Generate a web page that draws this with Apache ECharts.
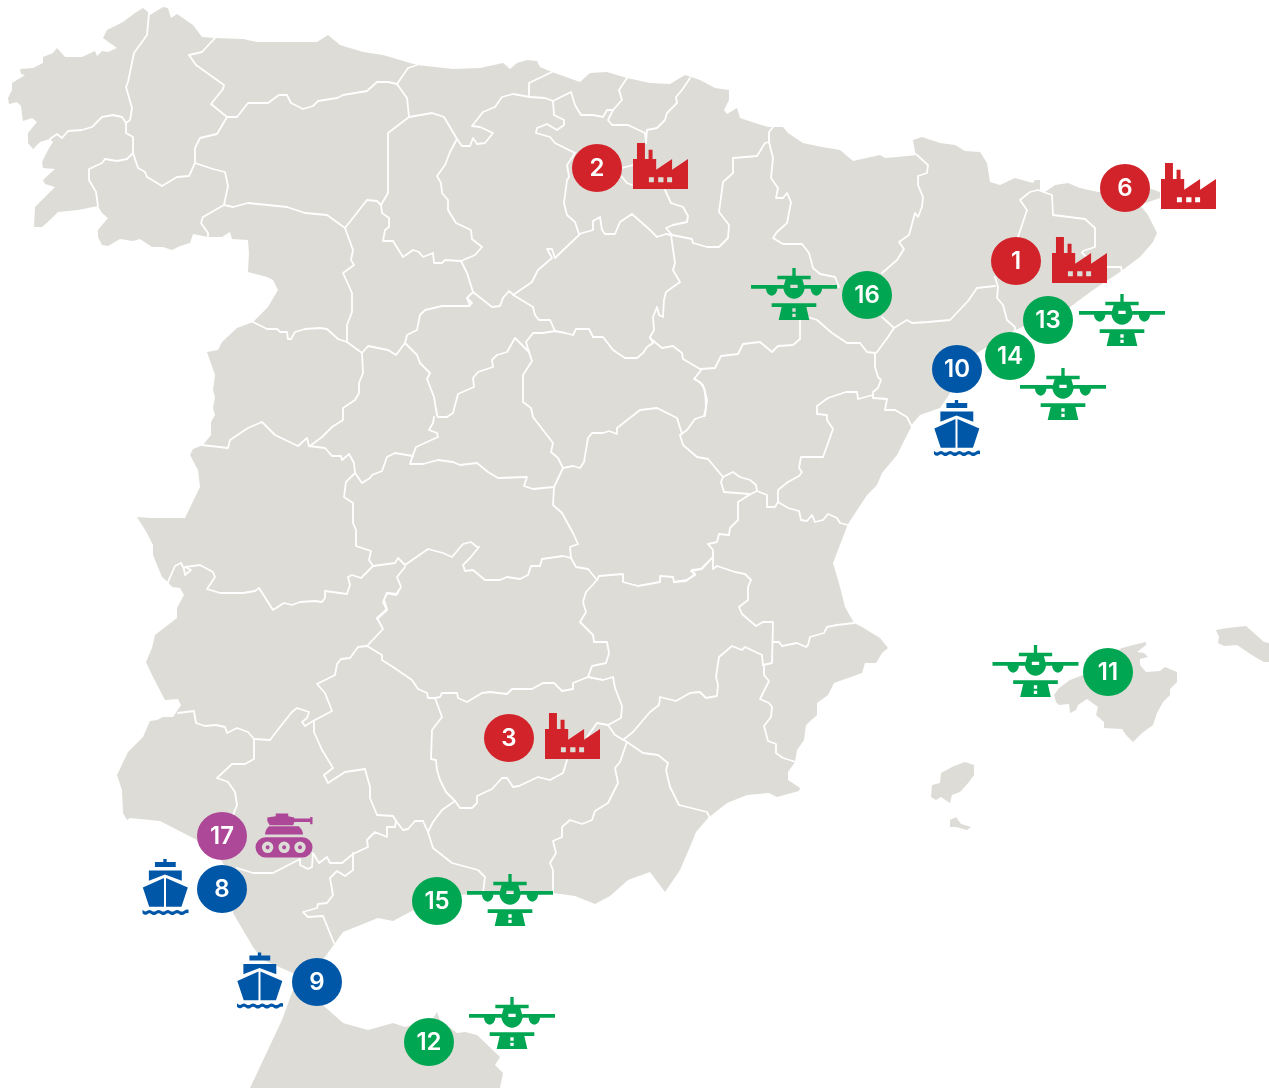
<!DOCTYPE html>
<html>
<head>
<meta charset="utf-8">
<title>Mapa</title>
<script src="https://cdn.jsdelivr.net/npm/echarts@6/dist/echarts.min.js"></script>
<style>
    html, body { margin: 0; padding: 0; background: #fff; }
    #chart-box { width: 1269px; height: 1088px; }
</style>
</head>
<body>
<div id="chart-box"></div>
<script>
// land outlines (x right, y down)
var peninsula = [[148,12],[143,8],[135,13],[123,22],[107,30],[103,38],[110,43],[117,48],[108,52],[102,51],[97,56],[95,51],[82,57],[65,57],[57,48],[53,53],[43,57],[43,63],[33,68],[20,69],[21,74],[25,75],[12,83],[12,90],[8,98],[9,104],[17,102],[21,106],[22,115],[23,121],[32,118],[37,122],[28,133],[28,143],[33,149],[40,142],[50,139],[53,142],[48,150],[42,162],[43,168],[55,169],[43,180],[45,184],[55,187],[35,207],[34,227],[42,227],[50,220],[58,212],[78,210],[98,206],[102,213],[108,218],[98,230],[98,237],[102,245],[108,246],[120,239],[133,241],[140,239],[152,247],[163,247],[172,250],[180,246],[190,243],[193,234],[208,237],[222,237],[230,232],[232,239],[248,240],[249,253],[248,272],[267,277],[273,280],[278,290],[268,307],[253,322],[237,328],[222,342],[218,350],[207,352],[215,375],[213,390],[215,397],[213,408],[215,415],[211,422],[211,435],[203,445],[193,449],[190,455],[198,470],[200,487],[185,518],[168,518],[150,518],[137,517],[147,533],[153,545],[153,555],[162,577],[168,582],[172,587],[180,588],[184,595],[177,608],[177,618],[155,635],[152,648],[146,662],[152,675],[165,700],[178,699],[181,705],[173,717],[163,717],[157,720],[150,721],[143,737],[128,752],[117,775],[122,790],[123,813],[127,820],[130,818],[160,821],[197,840],[220,858],[235,885],[233,913],[253,947],[263,960],[293,973],[310,975],[325,957],[343,932],[378,918],[393,921],[410,912],[430,900],[460,895],[483,893],[520,893],[553,893],[575,896],[595,904],[610,896],[628,880],[650,872],[665,892],[680,870],[692,842],[696,832],[708,818],[727,803],[747,795],[769,793],[777,797],[799,791],[800,788],[788,780],[788,772],[795,762],[797,750],[804,740],[806,725],[817,715],[817,703],[828,695],[834,683],[862,673],[865,663],[876,663],[882,653],[888,648],[880,638],[862,627],[854,623],[845,607],[840,587],[833,563],[843,537],[848,524],[867,495],[877,485],[882,473],[897,455],[913,423],[920,415],[940,408],[977,353],[1015,330],[1070,307],[1093,290],[1120,272],[1140,257],[1153,242],[1157,233],[1148,215],[1140,205],[1160,198],[1160,192],[1140,185],[1098,192],[1080,188],[1068,183],[1055,185],[1045,192],[1040,190],[1040,180],[1035,180],[1033,183],[1015,178],[1000,185],[990,182],[987,163],[980,152],[965,151],[955,145],[940,143],[922,137],[913,140],[915,152],[917,155],[897,157],[885,158],[880,155],[853,161],[840,150],[822,147],[803,143],[788,133],[783,127],[772,127],[768,127],[755,123],[740,118],[737,108],[727,114],[724,110],[729,100],[729,90],[715,88],[700,80],[685,75],[670,84],[650,83],[627,78],[607,72],[590,73],[580,82],[552,72],[540,67],[537,61],[527,60],[517,63],[510,69],[503,63],[480,68],[453,69],[417,65],[383,55],[363,52],[340,45],[328,35],[317,42],[293,42],[257,42],[243,39],[215,38],[202,37],[193,25],[177,14],[171,18],[168,8],[163,7],[150,15]];
var morocco = [[300,975],[325,1007],[343,1023],[368,1030],[393,1023],[405,1027],[432,1020],[437,1012],[440,1020],[457,1033],[465,1032],[477,1035],[500,1057],[495,1065],[503,1073],[500,1088],[250,1088],[282,1020],[293,990]];
var mallorca = [[1054,695],[1056,702],[1059,705],[1069,704],[1070,713],[1076,710],[1078,705],[1087,699],[1098,707],[1096,715],[1104,722],[1104,728],[1122,729],[1126,735],[1133,742],[1142,733],[1153,725],[1157,713],[1163,702],[1170,695],[1170,689],[1177,682],[1177,672],[1165,667],[1160,671],[1146,672],[1140,665],[1140,659],[1148,657],[1144,653],[1137,652],[1146,645],[1146,642],[1133,645],[1122,648],[1100,660],[1083,675],[1070,680],[1059,688]];
var menorca = [[1216,630],[1219,637],[1218,643],[1224,646],[1237,645],[1255,657],[1264,662],[1269,662],[1269,643],[1264,642],[1246,626],[1227,628]];
var ibiza = [[932,785],[931,797],[936,800],[941,797],[950,803],[952,795],[960,792],[969,782],[974,775],[974,765],[965,762],[954,766],[941,773],[940,783]];
var formentera = [[950,820],[950,827],[956,827],[967,830],[971,827],[961,824],[956,817]];
var landShapes = [peninsula, morocco, mallorca, menorca, ibiza, formentera];

// province borders
var borderLines = [
    [[149,13],[147,35],[134,53],[128,82],[126,87],[132,108],[130,120],[126,123]],
    [[50,139],[57,134],[62,138],[68,131],[82,130],[92,127],[102,117],[113,115],[122,117],[126,123],[126,133],[133,137],[133,153]],
    [[133,153],[127,159],[117,161],[105,159],[102,163],[89,169],[89,180],[96,192],[98,206]],
    [[133,153],[138,168],[145,172],[147,177],[162,186],[177,177],[189,176],[195,163]],
    [[215,38],[202,52],[189,55],[196,65],[224,85],[223,89],[211,104],[227,117],[217,134],[200,138],[195,148],[195,163]],
    [[195,163],[213,169],[225,172],[228,186],[224,205],[203,217],[201,223],[208,233],[208,237]],
    [[224,205],[233,207],[248,203],[287,207],[305,213],[327,215],[345,228],[367,200],[377,201],[381,205]],
    [[227,117],[237,117],[248,103],[268,103],[279,95],[287,95],[291,103],[303,109],[313,106],[318,101],[337,98],[343,95],[367,91],[377,82],[388,82],[397,84]],
    [[417,65],[408,68],[397,84],[407,98],[409,117]],
    [[409,117],[432,113],[444,117],[457,139],[462,146],[470,146],[473,138],[477,144],[485,143],[493,133],[480,127],[472,126],[483,112],[495,107],[502,97],[513,94],[530,97],[545,98],[553,101],[571,92],[575,105],[581,115],[593,115],[603,117],[607,110],[613,110]],
    [[552,72],[529,83],[529,95]],
    [[553,101],[554,115],[564,120],[564,125],[557,130],[547,124],[537,128],[536,133],[550,137],[555,143],[575,153]],
    [[627,78],[619,90],[622,100],[613,110],[608,120],[612,125],[628,125],[645,133],[646,143]],
    [[690,78],[682,90],[676,97],[677,103],[667,113],[665,120],[657,128],[647,130],[646,143]],
    [[575,153],[567,165],[569,177],[567,180],[564,203],[567,215],[575,222],[579,234]],
    [[622,168],[633,165]],
    [[622,177],[627,183],[632,185]],
    [[665,190],[671,203],[683,207],[688,216],[687,222],[673,225],[666,228],[672,235]],
    [[579,234],[593,230],[593,221],[600,217],[602,230],[605,234],[615,234],[620,222],[632,214],[650,230],[657,237],[666,234],[672,235]],
    [[672,235],[692,239],[693,243],[707,247],[719,247],[728,238],[729,225],[719,212],[722,190],[723,182],[733,173],[733,158],[757,156],[765,143],[769,142],[769,132],[773,127]],
    [[769,142],[773,158],[771,178],[778,188],[776,198],[783,198],[787,193],[791,202],[787,223],[777,232],[773,238],[783,244],[802,244],[809,253],[813,268],[820,274],[835,277],[839,287]],
    [[917,155],[928,165],[927,173],[918,176],[918,185],[923,197],[922,207],[918,217],[915,213],[909,235],[899,242],[904,249],[897,260],[882,273]],
    [[882,317],[894,328],[907,320],[912,323],[928,322],[950,320],[968,301],[977,288],[995,286]],
    [[894,328],[888,337],[877,352],[875,353]],
    [[650,338],[662,348],[673,346],[682,353],[683,359],[700,369],[715,368],[721,356],[738,354],[743,344],[760,342],[772,352],[778,346],[793,345],[800,339],[800,320]],
    [[808,317],[817,320],[832,333],[847,343],[860,343],[867,352],[875,353],[875,367],[878,377],[881,380],[878,388],[873,392],[873,398],[887,399],[885,410],[895,410],[907,417],[912,427]],
    [[1018,237],[1027,210],[1020,200],[1030,192],[1038,190],[1052,195],[1053,215],[1085,219],[1095,228],[1095,247],[1083,251],[1082,253],[1088,258]],
    [[1107,267],[1121,267],[1122,273]],
    [[995,277],[998,287],[997,298],[1003,305],[1007,320],[1015,327],[1015,332]],
    [[873,395],[858,399],[857,392],[846,392],[828,398],[817,406],[817,414],[827,415],[827,420],[833,429],[823,457],[801,457],[799,468],[802,472],[799,476],[788,482],[778,490],[778,502]],
    [[778,502],[788,508],[799,511],[801,520],[807,521],[812,515],[815,522],[823,520],[828,514],[837,518],[840,523],[848,525]],
    [[778,502],[775,507],[767,507],[767,495],[757,491]],
    [[702,369],[694,379],[700,382],[705,390],[706,407],[704,416],[695,419],[687,430],[680,435],[683,445],[697,457],[708,459],[723,477]],
    [[723,477],[733,472],[740,477],[750,480],[756,485],[757,491],[749,495],[738,502],[738,520],[730,528],[729,535],[719,534],[717,542],[708,544],[713,550],[713,569],[717,566],[735,572],[745,574],[751,580],[748,587],[748,600],[739,607],[742,614],[756,626],[763,622],[773,622],[772,663],[763,665]],
    [[723,477],[721,482],[724,492],[749,494]],
    [[713,557],[702,569],[692,570],[695,575],[687,580],[674,582]],
    [[854,623],[837,625],[827,627],[824,633],[810,637],[808,645],[806,647],[797,643],[782,646],[779,642],[773,642]],
    [[763,665],[762,655],[745,647],[742,650],[732,646],[719,657],[716,677],[718,685],[717,696],[706,698],[700,692],[690,693],[676,701],[660,697],[659,705],[650,712],[633,732],[623,740]],
    [[764,665],[764,675],[769,681],[760,699],[769,703],[772,707],[771,717],[764,726],[768,741],[776,744],[776,753],[783,758],[796,762]],
    [[627,742],[643,753],[658,755],[668,763],[666,770],[670,787],[679,805],[707,812],[710,818]],
    [[588,677],[603,680],[613,677],[615,688],[622,706],[621,718],[608,725],[615,735],[627,742]],
    [[588,677],[592,666],[606,663],[609,653],[607,642],[594,642],[593,635],[580,622],[586,612],[583,602],[586,592],[597,580]],
    [[588,677],[573,683],[573,689],[562,691],[554,683],[543,683],[532,689],[512,689],[507,694],[490,692],[482,693],[467,702],[458,698],[457,693],[442,693],[440,697],[435,698],[428,698],[427,693],[418,689],[412,680],[393,667],[382,660],[382,655],[367,646]],
    [[435,698],[442,717],[432,730],[431,759],[436,760],[437,770],[440,780],[446,792],[455,801],[460,808],[472,808],[477,803],[477,796],[492,789],[502,778],[507,778],[513,787],[519,786],[538,777],[550,780],[563,773],[567,760]],
    [[587,737],[597,723],[608,725]],
    [[627,742],[620,762],[615,768],[618,783],[608,803],[595,811],[592,820],[582,824],[570,820],[562,827],[562,837],[553,841],[556,853],[550,863],[553,870],[553,893]],
    [[455,801],[442,810],[433,822],[428,832],[423,821]],
    [[428,832],[433,848],[452,863],[478,870],[485,877],[483,893]],
    [[178,713],[194,711],[196,723],[205,726],[216,725],[225,727],[227,733],[237,728],[248,732],[254,739],[270,740],[280,727],[292,712],[297,708],[309,712],[307,718],[302,722],[305,726],[313,721],[332,711],[325,693],[317,684],[335,675],[337,664],[341,659],[350,658],[358,647],[367,646],[383,629],[377,618],[387,609],[384,600],[387,593],[397,594],[399,590]],
    [[254,739],[254,759],[245,764],[232,764],[217,778],[228,782],[235,792],[237,805],[233,815]],
    [[314,722],[314,732],[322,750],[333,768],[324,775],[328,783],[345,772],[365,769],[370,787],[370,798],[377,815],[393,816],[396,821],[403,830],[408,829],[415,821],[423,821]],
    [[396,821],[395,827],[387,827],[387,837],[375,832],[367,840],[368,847],[353,854],[342,863],[330,863],[327,857],[319,863],[313,853],[312,867],[308,869],[300,865],[300,859],[273,873],[253,873],[237,868]],
    [[353,853],[353,870],[345,876],[337,871],[330,878],[333,895],[327,903],[318,904],[317,908],[303,912],[308,917],[323,916],[334,943]],
    [[457,139],[450,152],[445,165],[437,176],[441,183],[442,193],[448,200],[448,210],[456,223],[471,230],[472,239],[482,247],[475,255],[461,261]],
    [[409,117],[388,133],[388,193],[381,205],[382,213],[389,218],[389,227],[385,230],[383,241],[393,241],[403,257],[413,250],[419,252],[423,257],[433,253],[434,263],[442,263],[445,260],[461,261]],
    [[461,261],[467,273],[473,292],[467,298],[470,306]],
    [[473,292],[492,307],[500,306],[503,298],[509,291],[515,296],[533,307]],
    [[513,295],[532,282],[538,270],[552,258],[547,249],[552,249],[555,258],[580,234]],
    [[345,228],[353,250],[351,260],[354,265],[343,273],[352,293],[352,312],[347,325],[347,342]],
    [[253,322],[267,329],[277,329],[280,332],[287,332],[288,339],[291,339],[295,332],[305,329],[320,328],[327,329],[338,339],[347,342],[362,353],[368,346],[388,350],[396,355],[405,343],[407,335],[417,330],[420,315],[425,310],[442,306],[468,306],[472,303],[467,298]],
    [[405,343],[417,355],[420,363],[430,373],[427,379],[434,397],[437,415],[438,417],[447,417],[453,413],[458,394],[467,390],[474,387],[473,378],[478,372],[493,367],[492,360],[497,355],[507,352],[515,338],[527,350],[529,352]],
    [[529,352],[526,342],[533,333],[543,333],[555,331],[565,333],[573,335],[576,329],[589,329],[593,337],[603,337],[613,350],[625,358],[637,358],[643,353],[647,347],[653,343]],
    [[555,331],[550,320],[539,320],[535,315],[533,307]],
    [[653,343],[650,337],[654,330],[653,317],[657,307],[659,315],[663,317],[664,300],[666,292],[680,282],[673,270],[675,263],[671,235]],
    [[695,379],[703,385],[707,400],[705,416]],
    [[682,434],[677,418],[657,408],[640,410],[617,428],[617,434],[609,431],[603,433],[592,433],[588,438],[584,462],[580,468],[573,466],[563,468]],
    [[529,352],[532,361],[523,375],[523,402],[531,408],[533,417],[553,443],[551,452],[558,458],[563,468],[554,487],[543,488],[533,489],[524,486],[527,477],[498,478],[488,472],[477,463],[460,465],[453,462],[438,460],[423,464],[410,464],[413,455],[416,447],[438,437],[437,433],[429,430],[433,423],[434,417]],
    [[413,456],[395,453],[387,457],[382,471],[372,475],[370,478],[362,483],[355,473]],
    [[202,445],[228,448],[230,440],[248,428],[262,422],[275,435],[298,446],[307,438],[309,446],[325,448],[332,456],[341,456],[342,460],[349,454],[354,463],[355,473],[346,482],[344,497],[353,503],[353,523],[356,530],[356,546],[371,551],[369,560],[373,566]],
    [[362,353],[363,373],[359,383],[359,393],[355,400],[343,408],[343,420],[332,427],[322,437],[310,446]],
    [[168,582],[175,566],[181,563],[184,569],[185,575],[191,570],[185,567],[200,565],[213,572],[215,577],[207,589],[220,593],[243,593],[255,591],[259,588],[273,610],[284,603],[292,605],[300,602],[315,601],[322,602],[325,598],[325,591],[347,594],[350,585],[348,577],[352,575],[361,578],[373,566]],
    [[373,566],[395,563],[398,558],[405,565],[428,549],[443,553],[452,557],[463,544],[471,542],[477,547],[479,547],[470,558],[463,565],[465,571],[473,570],[485,580],[500,580],[507,577],[520,579],[528,575],[531,566],[540,566],[542,559],[563,556],[571,558]],
    [[405,567],[397,577],[401,587],[396,595],[387,593],[383,602],[387,610],[377,619]],
    [[554,487],[553,505],[562,513],[573,533],[578,544],[570,547],[571,558],[576,567],[588,569],[597,580]],
    [[597,580],[599,576],[623,574],[623,582],[638,586],[660,582],[660,576],[673,577],[674,582],[686,581],[695,574],[691,571],[701,569],[713,557]]
];

// numbered markers
var markerLabels = ['1','2','3','6','8','9','10','11','12','13','14','15','16','17'];
var markerX = [1016,597,509,1125,222,317,957,1108,429,1048,1010,437,867,222];
var markerY = [261,168,738,188,889,982,369,672,1042,320,356,901,295,836];
var markerKinds = ['factory','factory','factory','factory','ship','ship','ship','plane','plane','plane','plane','plane','plane','tank'];

// icons next to the markers, same order as the labels
var iconX = [1079.5,660.5,572.5,1188.5,165.5,260,957,1035.5,512,1122,1063,510,794,284];
var iconY = [260,166,736,186,887,980.5,428,671,1023,320,394,900,294,835.5];

var kindColors = { factory: '#d2232a', ship: '#0057a8', plane: '#00a651', tank: '#ad4797' };
var kindSizes = { factory: [55,46], ship: [46,56], plane: [86,52], tank: [57,44] };

function ring(cx, cy, r, sweep) {
    return 'M' + (cx - r) + ' ' + cy + 'A' + r + ' ' + r + ' 0 1 ' + sweep + ' ' + (cx + r) + ' ' + cy
        + 'A' + r + ' ' + r + ' 0 1 ' + sweep + ' ' + (cx - r) + ' ' + cy + 'Z';
}

var kindPaths = {
    factory: 'path://M0 48L12 48L12 0L36 0L36 48L47 48L47 20L59 20L59 48L70 48L70 80L118 48L118 80L166 48L166 138L0 138Z'
        + 'M48 103L48 118L63 118L63 103Z M76 103L76 118L92 118L92 103Z M103 103L103 118L118 118L118 103Z',
    plane: 'path://M124 0L134 0L134 23L179 23L179 34L79 34L79 23L124 23Z'
        + 'M0 51L98 51L98 62L0 62Z M160 51L258 51L258 62L160 62Z'
        + 'M104 34L154 34L161 57A32 35 0 0 1 97 57Z M118 50L118 60L140 60L140 50Z'
        + 'M45 62L79 62A17 21 0 0 1 45 62Z M179 62L213 62A17 21 0 0 1 179 62Z'
        + 'M62 106L196 106L196 117L62 117Z M92 117L166 117L175 156L83 156Z'
        + 'M124 121L124 131L134 131L134 121Z M124 137L124 147L134 147L134 137Z',
    ship: 'path://M62 0L72 0L72 9L99 9L99 24L37 24L37 9L62 9Z'
        + 'M19 34L117 34L117 64L67 46L19 64Z'
        + 'M1 84L64 56L64 141L20 141Z M70 56L135 84L116 141L70 141Z'
        + 'M0 150Q7 158 14 153Q21 148 27 153Q34 158 41 153Q48 148 55 153Q62 158 69 153Q76 148 82 153Q89 158 96 153Q103 148 110 153Q117 158 124 153Q131 148 137 150'
        + 'L137 160Q131 158 124 163Q117 168 110 163Q103 158 96 163Q89 168 82 163Q76 158 69 163Q62 168 55 163Q48 158 41 163Q34 168 27 163Q21 158 14 163Q7 168 0 160Z',
    tank: 'path://M60 0L97 0L97 8L115 12L115 15L162 15L162 10L169 10L169 32L162 32L162 25L115 25L112 35L42 35L35 22L35 12L60 8Z'
        + 'M40 38L128 38C136 44 140 52 141 62L28 62C29 52 33 44 40 38Z'
        + 'M30 70L139 70A30 30 0 0 1 139 130L30 130A30 30 0 0 1 30 70Z'
        + ring(36, 100, 17, 0) + ring(36, 100, 6, 1)
        + ring(85, 100, 17, 0) + ring(85, 100, 6, 1)
        + ring(132, 100, 17, 0) + ring(132, 100, 6, 1)
};

var iconData = markerKinds.map(function (kind, i) {
    return {
        value: [iconX[i], iconY[i]],
        symbol: kindPaths[kind],
        symbolSize: kindSizes[kind],
        itemStyle: { color: kindColors[kind], opacity: 1 }
    };
});

var markerData = markerKinds.map(function (kind, i) {
    return {
        value: [markerX[i], markerY[i]],
        name: markerLabels[i],
        itemStyle: { color: kindColors[kind], opacity: 1 }
    };
});

var option = {
    animation: false,
    backgroundColor: '#fff',
    grid: { left: 0, right: 0, top: 0, bottom: 0 },
    xAxis: { type: 'value', min: 0, max: 1269, show: false },
    yAxis: { type: 'value', min: 0, max: 1088, inverse: true, show: false },
    series: [
        {
            type: 'custom',
            silent: true,
            clip: false,
            z: 1,
            data: landShapes.map(function (s, i) { return [i]; }),
            renderItem: function (params, api) {
                return {
                    type: 'polygon',
                    shape: { points: landShapes[params.dataIndex].map(function (p) { return api.coord(p); }) },
                    style: { fill: '#dddcd6' }
                };
            }
        },
        {
            type: 'custom',
            silent: true,
            clip: false,
            z: 2,
            data: borderLines.map(function (s, i) { return [i]; }),
            renderItem: function (params, api) {
                return {
                    type: 'polyline',
                    shape: { points: borderLines[params.dataIndex].map(function (p) { return api.coord(p); }) },
                    style: { fill: null, stroke: '#fff', lineWidth: 1.8, lineJoin: 'round', lineCap: 'round' }
                };
            }
        },
        {
            type: 'scatter',
            silent: true,
            z: 3,
            data: iconData
        },
        {
            type: 'scatter',
            silent: true,
            z: 4,
            symbol: 'circle',
            symbolSize: [50, 48],
            data: markerData,
            label: {
                show: true,
                position: 'inside',
                offset: [0, 1],
                formatter: '{b}',
                color: '#fff',
                fontFamily: 'Inter',
                fontWeight: 600,
                fontSize: 24
            }
        }
    ]
};

var chartMap = echarts.init(document.getElementById('chart-box'));
chartMap.setOption(option);
</script>
</body>
</html>
